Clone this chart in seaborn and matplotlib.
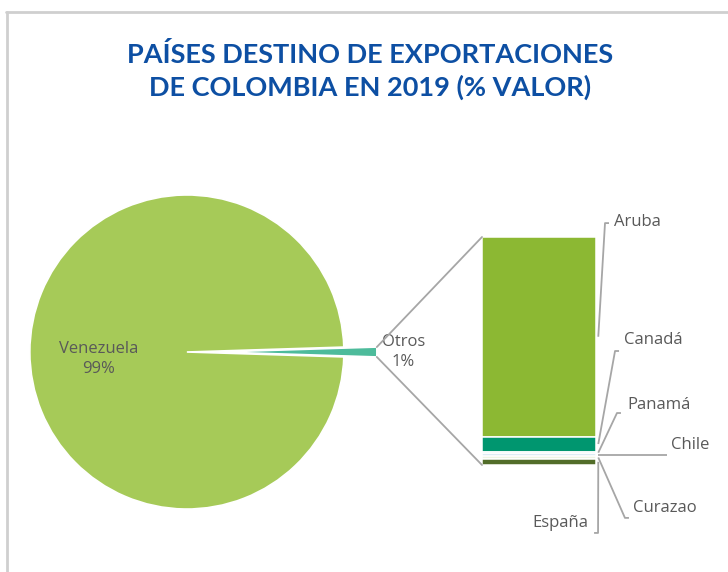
import numpy as np
import matplotlib
matplotlib.use("Agg")
import matplotlib.pyplot as plt
import seaborn as sns
from matplotlib.patches import ConnectionPatch
from matplotlib.lines import Line2D

# Datos del gráfico (% valor)
pie_labels = ["Otros", "Venezuela"]
pie_values = [1.0, 99.0]

otros_paises = ["Aruba", "Canadá", "Panamá", "Chile", "Curazao", "España"]
otros_values = [87.5, 6.6, 1.0, 1.1, 1.0, 2.8]  # participación dentro de "Otros"

pie_colors = ["#4dbb9b", "#a6ca58"]
bar_colors = ["#8cb833", "#00966f", "#e4eef5", "#6fb0d2", "#eef4e4", "#526d29"]

sns.set_theme(style="white")
plt.rcParams["font.family"] = ["Open Sans", "DejaVu Sans"]

text_color = "#595959"
line_color = "#a6a6a6"
W, H = 728, 572

fig = plt.figure(figsize=(W / 100, H / 100), dpi=100)

# marco gris (arriba e izquierda)
fig.add_artist(Line2D([6 / W, 1], [1 - 12 / H, 1 - 12 / H], color="#cfcfcf", lw=2))
fig.add_artist(Line2D([7 / W, 7 / W], [0, 1 - 12 / H], color="#cfcfcf", lw=2))

# titulo
fig.text(370 / W, 1 - 71 / H, "PAÍSES DESTINO DE EXPORTACIONES\nDE COLOMBIA EN 2019 (% VALOR)",
         ha="center", va="center", fontsize=19.5, fontweight="bold", color="#0d4fa3",
         family=["Lato", "DejaVu Sans"], linespacing=1.38)

# ---- pie principal ----
ax1 = fig.add_axes([22 / W, 55 / H, 369 / W, 330 / H])
wedges, _ = ax1.pie(pie_values, colors=pie_colors, startangle=-pie_values[0] / sum(pie_values) * 180,
                    explode=[0.21, 0], radius=1, counterclock=True,
                    wedgeprops=dict(edgecolor="white", linewidth=1.2))
ax1.set_xlim(-1.05, 1.30)
ax1.set_ylim(-1.05, 1.05)
ax1.set_aspect("equal")
ax1.axis("off")

label_dist = [1.17, 0.56]
total = sum(pie_values)
for w, lab, val, d in zip(wedges, pie_labels, pie_values, label_dist):
    ang = np.deg2rad((w.theta1 + w.theta2) / 2)
    cx, cy = w.center
    ax1.text(cx + d * np.cos(ang), cy + d * np.sin(ang) - (0.045 if lab == "Venezuela" else 0),
             f"{lab}\n{val / total * 100:.0f}%", ha="center", va="center",
             fontsize=12, color=text_color, linespacing=1.35)

# ---- barra apilada de "Otros" ----
ax2 = fig.add_axes([482 / W, 107 / H, 114 / W, 228 / H])
bar_total = sum(otros_values)
bottoms = bar_total - np.cumsum(otros_values)
for v, b, c in zip(otros_values, bottoms, bar_colors):
    ax2.bar(0, v, bottom=b, width=1.0, color=c, edgecolor="white", linewidth=1.1)
ax2.set_xlim(-0.5, 0.5)
ax2.set_ylim(0, bar_total)
ax2.axis("off")

# lineas de conexion pie -> barra
ow = wedges[0]
for theta, ybar in [(ow.theta2, bar_total), (ow.theta1, 0)]:
    t = np.deg2rad(theta)
    p = (ow.center[0] + ow.r * np.cos(t), ow.center[1] + ow.r * np.sin(t))
    con = ConnectionPatch(xyA=p, coordsA=ax1.transData, xyB=(-0.5, ybar), coordsB=ax2.transData,
                          color=line_color, lw=1.3)
    fig.add_artist(con)

# etiquetas con lineas guia (posiciones en fraccion del eje)
label_layout = {
    "Aruba":   ((1.079, 1.061), (1.158, 1.066), "left"),
    "Canadá":  ((1.167, 0.500), (1.246, 0.548), "left"),
    "Panamá":  ((1.184, 0.228), (1.272, 0.263), "left"),
    "Chile":   ((1.623, None), (1.658, 0.088), "left"),
    "Curazao": ((1.254, -0.232), (1.325, -0.189), "left"),
    "España":  ((1.018, -0.298), (0.930, -0.254), "right"),
}
cap = 0.035
for name, v, b in zip(otros_paises, otros_values, bottoms):
    (cx, cy), (tx, ty), ha = label_layout[name]
    y0 = (b + v / 2) / bar_total
    x0 = 1.02
    if cy is None:
        xs, ys = [x0, cx], [y0, y0]
    else:
        sgn = 1 if ha == "left" else -1
        xs, ys = [x0, cx, cx + sgn * cap], [y0, cy, cy]
    ax2.plot(xs, ys, transform=ax2.transAxes, color=line_color, lw=1.3, clip_on=False,
             solid_capstyle="butt")
    ax2.text(tx, ty, name, transform=ax2.transAxes, ha=ha, va="center",
             fontsize=12, color=text_color)

fig.savefig("out.png", dpi=100, facecolor="white")
